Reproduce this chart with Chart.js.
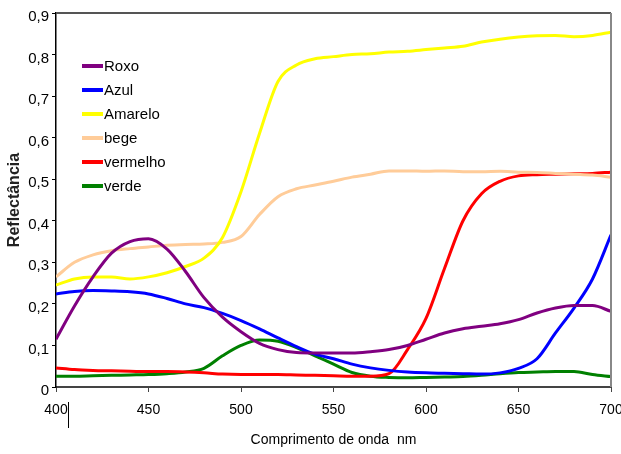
<!DOCTYPE html>
<html>
<head>
<meta charset="utf-8">
<script src="https://cdn.jsdelivr.net/npm/chart.js@4/dist/chart.umd.min.js"></script>
<style>
  html, body { margin: 0; padding: 0; background: #fff; }
  #wrap { width: 621px; height: 454px; }
</style>
</head>
<body>
<div id="wrap"><canvas id="chart"></canvas></div>
<script>
// comprimento de onda (nm), de 10 em 10
const wavelengths = [400, 410, 420, 430, 440, 450, 460, 470, 480, 490,
  500, 510, 520, 530, 540, 550, 560, 570, 580, 590,
  600, 610, 620, 630, 640, 650, 660, 670, 680, 690, 700];

const roxo = [0.115, 0.195, 0.265, 0.322, 0.35, 0.357, 0.332, 0.278, 0.215, 0.168,
  0.133, 0.105, 0.09, 0.083, 0.082, 0.082, 0.082, 0.085, 0.09, 0.10,
  0.115, 0.13, 0.14, 0.146, 0.152, 0.162, 0.178, 0.19, 0.196, 0.196, 0.182];

const azul = [0.224, 0.23, 0.232, 0.231, 0.229, 0.224, 0.213, 0.2, 0.191, 0.177,
  0.16, 0.14, 0.118, 0.097, 0.079, 0.068, 0.055, 0.046, 0.04, 0.036,
  0.034, 0.033, 0.032, 0.031, 0.034, 0.045, 0.068, 0.13, 0.19, 0.26, 0.366];

const amarelo = [0.245, 0.26, 0.265, 0.265, 0.26, 0.265, 0.275, 0.29, 0.31, 0.36,
  0.47, 0.61, 0.735, 0.775, 0.79, 0.795, 0.80, 0.802, 0.806, 0.808,
  0.812, 0.816, 0.82, 0.83, 0.837, 0.842, 0.845, 0.846, 0.843, 0.846, 0.854];

const bege = [0.265, 0.30, 0.318, 0.328, 0.333, 0.337, 0.341, 0.343, 0.344, 0.348,
  0.362, 0.415, 0.458, 0.477, 0.486, 0.495, 0.505, 0.512, 0.52, 0.52,
  0.519, 0.52, 0.518, 0.518, 0.519, 0.517, 0.516, 0.514, 0.512, 0.51, 0.505];

const vermelho = [0.046, 0.042, 0.04, 0.039, 0.038, 0.037, 0.037, 0.036, 0.034, 0.031,
  0.03, 0.03, 0.03, 0.029, 0.028, 0.027, 0.026, 0.026, 0.032, 0.09,
  0.165, 0.285, 0.40, 0.465, 0.495, 0.508, 0.511, 0.512, 0.513, 0.514, 0.517];

const verde = [0.026, 0.026, 0.027, 0.028, 0.029, 0.03, 0.032, 0.036, 0.045, 0.075,
  0.1, 0.113, 0.11, 0.095, 0.075, 0.055, 0.035, 0.026, 0.023, 0.022,
  0.023, 0.024, 0.025, 0.028, 0.032, 0.035, 0.036, 0.037, 0.037, 0.03, 0.025];

const series = [
  { label: 'Roxo', data: roxo, color: '#800080' },
  { label: 'Azul', data: azul, color: '#0000ff' },
  { label: 'Amarelo', data: amarelo, color: '#ffff00' },
  { label: 'bege', data: bege, color: '#ffcc99' },
  { label: 'vermelho', data: vermelho, color: '#ff0000' },
  { label: 'verde', data: verde, color: '#008000' }
];

const sans = "'Liberation Sans', Arial, sans-serif";

// moldura cinza em cima e à direita + legenda dentro da área do gráfico
const framePlugin = {
  id: 'frame',
  afterDraw(chart) {
    const { ctx, chartArea: a } = chart;
    ctx.save();
    ctx.strokeStyle = '#555';
    ctx.lineWidth = 2;
    ctx.beginPath();
    ctx.moveTo(a.left, a.top);
    ctx.lineTo(a.right, a.top);
    ctx.stroke();
    ctx.strokeStyle = '#888';
    ctx.beginPath();
    ctx.moveTo(a.right, a.top);
    ctx.lineTo(a.right, a.bottom);
    ctx.stroke();

    // traço solto ao lado do 400
    ctx.strokeStyle = '#000';
    ctx.lineWidth = 1;
    ctx.beginPath();
    ctx.moveTo(68.5, a.bottom + 15);
    ctx.lineTo(68.5, a.bottom + 41);
    ctx.stroke();

    // legenda
    ctx.font = '15px ' + sans;
    ctx.textBaseline = 'middle';
    ctx.fillStyle = '#000';
    chart.data.datasets.forEach((ds, i) => {
      const y = 66 + i * 24;
      ctx.strokeStyle = ds.borderColor;
      ctx.lineWidth = 4;
      ctx.beginPath();
      ctx.moveTo(82, y);
      ctx.lineTo(103, y);
      ctx.stroke();
      ctx.fillText(ds.label, 104, y + 1);
    });
    ctx.restore();
  }
};

new Chart(document.getElementById('chart'), {
  type: 'line',
  data: {
    labels: wavelengths,
    datasets: series.map(s => ({
      label: s.label,
      data: s.data.map((v, i) => ({ x: wavelengths[i], y: v })),
      borderColor: s.color,
      backgroundColor: s.color,
      borderWidth: 3,
      pointRadius: 0,
      cubicInterpolationMode: 'monotone',
      fill: false
    }))
  },
  options: {
    responsive: true,
    maintainAspectRatio: false,
    animation: false,
    layout: { padding: { top: 13, right: 10, left: 0, bottom: 0 } },
    plugins: {
      legend: { display: false },
      tooltip: { enabled: false }
    },
    scales: {
      x: {
        type: 'linear',
        min: 400,
        max: 700,
        ticks: {
          stepSize: 50,
          color: '#000',
          padding: 10,
          maxRotation: 0,
          font: { family: sans, size: 14 }
        },
        grid: { drawOnChartArea: false, drawTicks: true, tickLength: 5, color: '#444' },
        border: { color: '#444', width: 2 },
        title: {
          display: true,
          text: 'Comprimento de onda  nm',
          color: '#000',
          font: { family: sans, size: 14 },
          padding: { top: 0, bottom: 5 }
        },
        afterFit(scale) {
          scale.height = 67;
          scale.paddingLeft = 0;
          scale.paddingRight = 0;
        }
      },
      y: {
        min: 0,
        max: 0.9,
        ticks: {
          stepSize: 0.1,
          color: '#000',
          padding: 3,
          labelOffset: 4,
          font: { family: sans, size: 15 },
          callback: v => v === 0 ? '0' : v.toFixed(1).replace('.', ',')
        },
        grid: { drawOnChartArea: false, drawTicks: true, tickLength: 4, color: '#000' },
        border: { color: '#000', width: 1.5 },
        title: {
          display: true,
          text: 'Reflectância',
          color: '#222',
          font: { family: sans, size: 16, weight: 'bold' },
          padding: { top: 5, bottom: 0 }
        },
        afterFit(scale) { scale.width = 56; }
      }
    }
  },
  plugins: [framePlugin]
});
</script>
</body>
</html>
